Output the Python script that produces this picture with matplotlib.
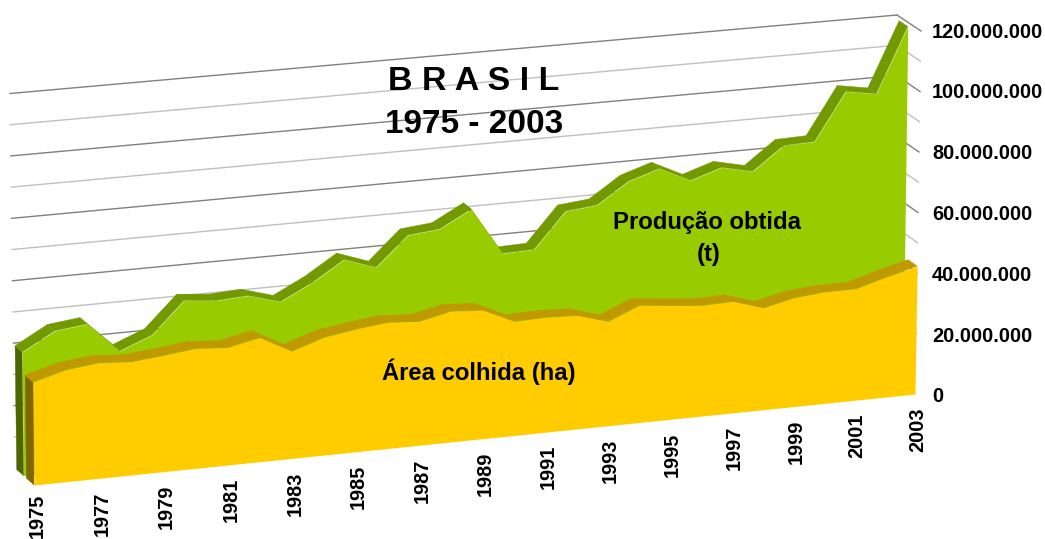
"""
Brasil 1975 - 2003: area colhida e producao obtida, area chart with fake 3D look
"""
import numpy as np
import matplotlib
matplotlib.use('Agg')
import matplotlib.pyplot as plt
from matplotlib.transforms import Transform

plt.rcParams['font.family'] = ['Liberation Sans', 'DejaVu Sans']

years = list(range(1975, 2004))
# values in millions
producao = [39.7, 45.5, 46.7, 37.0, 41.1, 51.2, 50.2, 50.8, 47.8, 53.0,
            59.5, 55.9, 65.4, 66.4, 71.9, 56.5, 56.8, 68.3, 69.3, 76.1,
            79.4, 74.5, 77.8, 75.5, 83.1, 83.4, 99.0, 97.3, 118.6]
area = [33.2, 36.1, 37.3, 36.6, 37.6, 38.8, 38.1, 40.3, 34.8, 38.3,
        39.9, 41.1, 40.4, 42.7, 42.0, 37.3, 37.6, 37.2, 34.2, 38.5,
        37.4, 36.4, 36.7, 33.6, 35.9, 36.8, 36.8, 39.7, 42.3]
year_labels = list(range(1975, 2004, 2))
value_ticks = [0, 20, 40, 60, 80, 100, 120]
value_labels = ['0', '20.000.000', '40.000.000', '60.000.000', '80.000.000',
                '100.000.000', '120.000.000']
grid_values = list(range(10, 130, 10))

GREEN, GREEN_TOP, GREEN_SIDE = '#99CC00', '#739900', '#4D6600'
YELLOW, YELLOW_TOP, YELLOW_SIDE = '#FFCC00', '#BF9900', '#806600'


class Chart3D(Transform):
    """(year, value in millions) to image pixels, depth 0 is front and 1 is back"""
    input_dims = 2
    output_dims = 2

    def __init__(self, depth):
        super().__init__()
        d = depth
        self.base_l = (34 - 19 * d, 485 - 17 * d)
        self.base_r = (915 - 22 * d, 394 - 16 * d)
        self.top_l = (30 - 20 * d, 113 - 19.5 * d)
        self.top_r = (921 - 24 * d, 31 - 16 * d)

    def transform_non_affine(self, values):
        values = np.asarray(values, dtype=float)
        t = (values[:, 0] - 1975) / 28
        u = t + 0.035 * t * (1 - t)
        h = values[:, 1] / 120
        out = []
        for k in (0, 1):
            base = self.base_l[k] + (self.base_r[k] - self.base_l[k]) * u
            top = self.top_l[k] + (self.top_r[k] - self.top_l[k]) * u
            out.append(base + (top - base) * h)
        return np.column_stack(out)


def draw_series(ax, values, d_front, d_back, front, top, side):
    pts = np.column_stack([years, values])
    front_pts = Chart3D(d_front).transform(pts)
    back_pts = Chart3D(d_back).transform(pts)

    # left side face
    floor = np.column_stack([years, np.zeros(len(years))])
    f0 = Chart3D(d_front).transform(floor)[0]
    b0 = Chart3D(d_back).transform(floor)[0]
    face = np.array([f0, front_pts[0], back_pts[0], b0])
    ax.fill(face[:, 0], face[:, 1], color=side, lw=0.3, zorder=3)

    # top strip, one quad per year
    for i in range(len(years) - 1):
        quad = np.array([front_pts[i], front_pts[i + 1], back_pts[i + 1], back_pts[i]])
        ax.fill(quad[:, 0], quad[:, 1], facecolor=top, edgecolor=top, lw=0.3, zorder=3)

    ax.fill_between(years, 0, values, color=front, lw=0, zorder=3,
                    transform=Chart3D(d_front) + ax.transData)


def main():
    fig = plt.figure(figsize=(10.45, 5.39), dpi=100)
    ax = fig.add_axes([0, 0, 1, 1])

    # gridlines: back wall then the short side wall
    back = Chart3D(1) + ax.transData
    for v in grid_values:
        color = '#808080' if v % 20 == 0 else '#C0C0C0'
        ax.plot([1975, 2003], [v, v], color=color, lw=1.0, transform=back, zorder=1)
        p = Chart3D(1).transform([[2003, v], [2003, v]])
        q = Chart3D(0).transform([[2003, v], [2003, v]])
        ax.plot([p[0, 0], q[0, 0]], [p[0, 1], q[0, 1]], color=color, lw=1.0, zorder=1)

    draw_series(ax, producao, 0.55, 0.91, GREEN, GREEN_TOP, GREEN_SIDE)
    draw_series(ax, area, 0.0, 0.40, YELLOW, YELLOW_TOP, YELLOW_SIDE)

    # axis labels
    for v, lab in zip(value_ticks, value_labels):
        x, y = Chart3D(0).transform([[2003, v]])[0]
        ax.text(932, y + 1 + (120 - v) / 60, lab, fontsize=14.4, fontweight='bold',
                va='center', ha='left', color='black', zorder=5)
    for yr in year_labels:
        x, y = Chart3D(0).transform([[yr, 0]])[0]
        # keep the 1975 label inside the picture
        ax.text(x + 3, min(y + 13, 494), str(yr), fontsize=14.3, fontweight='bold',
                rotation=90, va='top', ha='center', color='black', zorder=5)

    ax.text(474, 82, 'B R A S I L', fontsize=24.5, fontweight='bold',
            ha='center', va='center', zorder=5)
    ax.text(474, 124.5, '1975 - 2003', fontsize=24, fontweight='bold',
            ha='center', va='center', zorder=5)
    ax.text(707, 223, 'Produção obtida', fontsize=17.2, fontweight='bold',
            ha='center', va='center', zorder=5)
    ax.text(709, 254, '(t)', fontsize=17.2, fontweight='bold',
            ha='center', va='center', zorder=5)
    ax.text(479, 372, 'Área colhida (ha)', fontsize=17.2, fontweight='bold',
            ha='center', va='center', zorder=5)

    ax.set_xlim(0, 1045)
    ax.set_ylim(539, 0)
    ax.axis('off')
    fig.savefig('out.png', dpi=100, facecolor='white')


if __name__ == "__main__":
    main()
